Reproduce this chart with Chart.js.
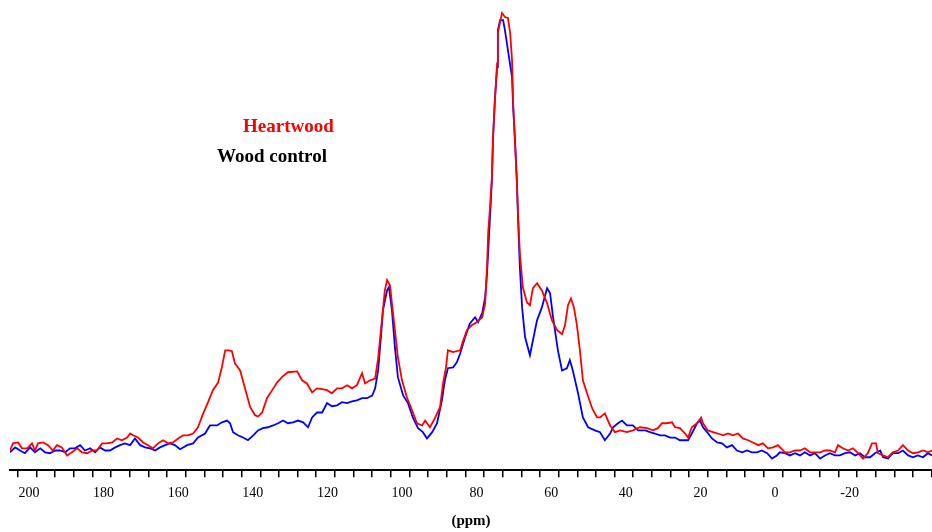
<!DOCTYPE html>
<html>
<head>
<meta charset="utf-8">
<title>13C NMR - Heartwood / Wood control</title>
<script src="https://cdn.jsdelivr.net/npm/chart.js@4"></script>
<style>
  body { margin: 0; background: #fff; }
  canvas { display: block; }
</style>
</head>
<body>
<canvas id="nmrChart" width="932" height="532"></canvas>
<script>
// chemical shift (ppm) and intensity (peak = 100)
const heartPpm = [205.1,204.3,202.9,201.9,200.5,199.2,198.4,197.6,196.2,194.9,193.6,192.5,191.2,189.8,188.5,187.1,185.8,184.4,183.1,181.8,
  180.4,179.1,177.7,176.4,175.1,173.7,172.9,172.1,170.8,169.4,168.1,166.8,165.4,164.1,162.7,161.4,160.0,158.7,157.4,156.0,154.7,
  153.3,152.0,150.7,149.3,148.3,147.4,146.4,145.6,144.8,143.4,142.1,140.7,139.4,138.6,137.5,136.2,134.8,133.5,132.2,130.6,
  128.1,126.8,125.5,124.1,122.8,121.4,120.1,118.8,117.4,116.1,114.7,113.4,112.1,110.7,109.9,108.6,107.2,
  106.4,105.4,104.6,104.0,103.2,102.7,101.9,101.1,100.0,98.7,97.3,96.0,94.6,93.8,92.5,91.2,89.8,89.0,88.2,87.7,
  86.3,84.4,83.6,82.6,81.3,79.9,78.5,77.7,
  77.2,76.9,76.4,75.9,75.6,75.1,74.5,74.3,73.2,72.4,71.6,71.0,70.5,70.2,69.7,69.2,68.9,68.4,67.6,66.5,
  65.7,64.9,63.8,62.5,61.1,59.8,58.4,57.1,56.3,55.5,54.7,53.9,53.1,52.3,51.5,50.4,49.0,47.7,46.9,45.6,
  44.2,42.9,41.5,39.7,38.1,36.2,34.3,32.7,31.4,30.3,29.0,27.6,26.8,25.5,24.1,23.3,22.3,20.9,19.8,19.3,
  18.0,16.6,15.3,13.9,12.6,11.3,9.9,8.6,7.2,5.9,4.5,3.2,1.9,0.5,-0.8,-2.7,-4.0,-5.4,-6.7,-8.0,
  -9.4,-10.7,-12.1,-13.4,-14.7,-16.1,-16.9,-18.2,-19.6,-20.9,-22.3,-23.6,-24.9,-26.0,-27.1,-27.6,-29.0,-30.3,-31.6,-33.0,
  -34.3,-35.7,-37.0,-38.3,-39.7,-41.0,-42.1];
const heartInt = [2.2,3.8,4.0,2.7,2.7,3.8,2.2,3.8,4.0,3.4,2.2,3.4,2.9,1.1,1.8,2.7,1.8,1.6,2.2,2.2,
  3.8,3.8,4.0,4.9,4.5,5.1,6.0,5.6,5.1,4.0,3.4,2.7,3.8,4.5,3.8,4.0,4.9,5.6,5.6,6.0,7.4,
  10.5,13.0,15.7,17.4,20.8,24.6,24.6,24.4,21.7,20.1,16.1,11.9,10.1,9.8,10.7,13.9,15.7,17.4,18.6,19.7,
  19.9,17.9,17.2,15.2,16.1,15.9,15.7,15.0,16.1,16.1,16.8,16.1,16.8,19.5,17.2,17.9,18.3,
  22.8,31.3,38.0,40.3,39.1,35.1,29.1,23.0,17.9,14.1,11.2,8.3,7.8,8.9,7.4,9.4,11.9,17.2,20.8,24.6,
  24.2,24.6,26.8,29.1,30.2,30.9,32.0,35.1,
  43.2,50.8,56.6,63.3,72.3,80.5,88.8,95.5,100.0,99.1,98.9,95.5,89.5,79.9,70.9,62.0,55.3,46.3,38.7,35.3,
  34.7,38.5,39.6,38.0,35.1,31.3,29.1,28.2,30.2,34.7,36.2,34.2,30.2,24.6,17.9,15.0,11.6,9.6,9.6,10.5,
  7.8,6.3,6.7,6.3,6.7,7.4,7.2,6.7,7.2,8.3,8.3,8.5,7.4,7.2,6.0,5.1,7.4,8.3,9.6,8.3,
  6.7,6.3,6.0,5.6,6.0,5.6,6.0,4.9,4.5,4.0,3.4,3.8,2.7,2.9,3.4,1.8,1.8,2.2,2.2,2.7,
  1.8,1.8,1.8,2.2,2.2,1.8,3.4,2.7,2.2,2.7,1.6,0.4,1.6,3.8,3.8,1.6,1.1,0.7,1.8,2.2,
  3.4,2.2,1.6,1.8,2.2,1.8,2.2];

const controlPpm = [205.1,203.7,202.4,201.1,199.7,198.4,197.0,195.7,194.4,193.0,191.7,190.3,189.0,187.7,186.3,185.0,183.6,182.3,181.0,179.6,
  178.3,176.9,175.6,174.3,172.9,171.6,170.2,168.9,167.6,166.2,164.9,163.5,162.2,160.9,159.5,157.6,156.0,154.7,
  152.8,151.5,149.6,148.3,146.9,146.1,145.3,144.0,142.6,141.3,139.9,138.6,137.3,135.9,134.6,133.2,131.9,130.6,129.2,127.9,
  126.5,125.2,124.1,122.8,121.4,120.1,118.8,117.4,116.1,114.7,113.4,112.1,110.7,109.4,108.0,107.2,106.4,
  105.6,105.1,104.0,103.5,102.7,101.9,101.1,99.7,98.4,97.1,95.7,94.4,93.3,91.9,90.6,89.3,88.5,87.7,86.3,85.3,
  84.4,83.1,81.8,80.4,79.6,78.5,77.7,
  77.2,76.4,75.9,75.6,75.1,74.5,74.3,73.7,72.9,72.4,71.6,70.5,70.2,69.7,69.2,68.9,68.4,67.8,67.0,65.7,
  64.9,63.8,62.5,61.1,60.3,59.5,58.2,57.1,55.8,55.0,54.2,52.8,51.5,50.1,48.3,46.9,45.6,44.2,43.4,42.1,
  41.0,39.7,38.1,36.7,34.8,33.5,32.2,30.8,29.5,28.1,26.8,25.5,24.1,23.3,22.3,20.9,20.1,19.3,18.2,16.9,
  15.5,14.2,12.9,11.5,10.2,8.8,7.5,6.2,4.8,3.5,2.1,0.8,-0.5,-1.3,-2.7,-4.0,-5.4,-6.7,-8.0,-9.4,
  -10.7,-12.1,-13.4,-14.7,-16.1,-17.4,-18.8,-20.1,-21.5,-22.8,-24.1,-25.5,-26.8,-28.2,-29.0,-30.3,-31.6,-33.0,-34.3,-35.7,
  -37.0,-38.3,-39.7,-41.0,-42.1];
const controlInt = [1.8,2.9,2.2,1.6,2.9,1.8,2.7,1.8,1.6,2.2,2.2,1.8,2.7,2.7,3.4,2.2,2.7,1.8,2.9,2.2,
  2.2,2.9,3.4,3.8,3.4,4.9,3.4,2.9,2.7,2.2,2.9,3.4,3.8,3.4,2.5,3.4,3.8,5.1,
  6.0,7.8,7.8,8.5,8.9,8.3,6.3,5.6,5.1,4.5,5.6,6.7,7.2,7.4,7.8,8.3,8.9,8.3,8.5,8.9,
  8.5,7.4,9.6,10.7,10.7,12.8,12.1,12.3,13.0,12.8,13.2,13.4,13.9,13.9,14.5,16.1,20.1,
  28.0,33.6,38.0,38.7,33.6,25.3,18.6,14.5,12.8,9.6,7.2,6.3,4.9,6.3,8.3,13.4,17.9,20.6,20.8,21.9,
  23.9,27.5,30.6,32.0,30.9,32.9,36.5,
  41.8,54.4,62.6,71.6,80.5,87.9,96.2,98.4,98.4,96.2,91.7,85.7,78.9,71.6,62.6,54.4,43.2,34.2,27.5,23.5,
  26.8,31.3,34.2,38.5,37.4,32.0,24.6,20.1,20.6,22.4,20.1,15.0,9.6,7.4,6.7,6.3,4.5,6.0,7.4,8.3,
  8.9,7.8,7.8,6.7,6.7,6.3,6.0,5.6,5.6,5.1,5.1,4.5,4.5,4.5,6.0,8.3,8.9,7.4,6.3,4.9,
  4.0,3.8,2.9,3.4,2.2,1.8,2.2,1.8,1.8,2.2,1.6,0.4,1.1,1.8,1.6,1.1,1.6,1.1,1.8,1.1,
  1.6,0.4,1.1,1.6,1.1,1.1,1.6,1.8,1.1,1.6,0.7,0.7,1.6,2.2,0.7,0.4,1.6,1.6,2.2,1.1,
  0.7,1.1,0.7,1.6,1.1];

const axisLabels = [200, 180, 160, 140, 120, 100, 80, 60, 40, 20, 0, -20];
const xMin = -42.1;
const xMax = 205.1;

// small tick marks every 5 ppm (they sit a bit off the labels in the original)
const minorTicks = [];
for (let v = 203; v >= -42; v -= 5) minorTicks.push(v);

// text labels drawn inside the plot, next to the peaks
const legendText = {
  id: 'legendText',
  afterDraw(chart) {
    const ctx = chart.ctx;
    const ds = chart.data.datasets;
    ctx.save();
    ctx.font = 'bold 19px "Liberation Serif"';
    ctx.textBaseline = 'middle';
    ctx.fillStyle = '#ff0000';
    ctx.fillText(ds[0].label, 243, 127);
    ctx.fillStyle = '#000000';
    ctx.fillText(ds[1].label, 217, 157);
    ctx.restore();
  }
};

const ctx = document.getElementById('nmrChart').getContext('2d');
new Chart(ctx, {
  type: 'line',
  data: {
    datasets: [{
      label: 'Heartwood',
      data: heartPpm.map((p, i) => ({ x: p, y: heartInt[i] })),
      borderColor: '#ff0000',
      borderWidth: 1.8,
      pointRadius: 0,
      tension: 0,
      fill: false
    }, {
      label: 'Wood control',
      data: controlPpm.map((p, i) => ({ x: p, y: controlInt[i] })),
      borderColor: '#0000ff',
      borderWidth: 1.8,
      pointRadius: 0,
      tension: 0,
      fill: false
    }]
  },
  options: {
    responsive: false,
    animation: false,
    layout: { padding: { left: 10, right: 0, top: 5, bottom: 2 } },
    plugins: {
      legend: { display: false },
      tooltip: { enabled: false }
    },
    scales: {
      xTicks: {
        type: 'linear',
        position: 'bottom',
        weight: 0,
        reverse: true,
        min: xMin,
        max: xMax,
        border: { display: true, color: '#000', width: 2 },
        grid: { drawOnChartArea: false, drawTicks: true, tickLength: 7, color: '#000', lineWidth: 1.5 },
        ticks: { display: false },
        afterBuildTicks: axis => { axis.ticks = minorTicks.map(v => ({ value: v })); }
      },
      x: {
        type: 'linear',
        position: 'bottom',
        weight: 1,
        reverse: true,
        min: xMin,
        max: xMax,
        border: { display: false },
        grid: { display: false },
        ticks: {
          color: '#000',
          padding: 0,
          maxRotation: 0,
          font: { family: 'Liberation Serif', size: 14 }
        },
        afterBuildTicks: axis => { axis.ticks = axisLabels.map(v => ({ value: v })); },
        title: {
          display: true,
          text: '(ppm)',
          color: '#000',
          padding: { top: 10, bottom: 0 },
          font: { family: 'Liberation Serif', size: 15, weight: 'bold' }
        }
      },
      y: {
        display: false,
        min: -2.2,
        max: 101.8
      }
    }
  },
  plugins: [legendText]
});
</script>
</body>
</html>
